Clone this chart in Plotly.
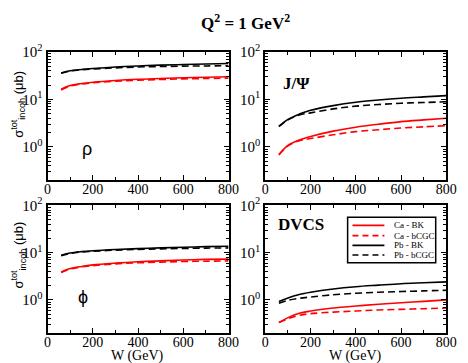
import plotly.graph_objects as go
import math

W = [60, 100, 150, 200, 300, 400, 500, 600, 700, 800]

rho_ca_bk = [16.4, 19.5, 21.5, 23.0, 25.0, 26.5, 27.5, 28.5, 29.3, 30.0]
rho_ca_bcgc = [15.8, 19.0, 21.0, 22.3, 24.0, 25.3, 26.2, 27.0, 27.5, 28.0]
rho_pb_bk = [36.0, 40.0, 42.5, 44.5, 48.0, 50.5, 52.5, 54.0, 55.5, 57.0]
rho_pb_bcgc = [35.5, 39.5, 42.0, 43.5, 46.0, 48.0, 49.0, 50.0, 50.5, 51.0]

jpsi_ca_bk = [0.69, 1.08, 1.40, 1.66, 2.15, 2.6, 3.0, 3.4, 3.7, 4.0]
jpsi_ca_bcgc = [0.68, 1.05, 1.35, 1.50, 1.80, 2.1, 2.3, 2.5, 2.65, 2.8]
jpsi_pb_bk = [2.7, 3.8, 4.9, 5.9, 7.4, 8.7, 9.7, 10.6, 11.3, 12.0]
jpsi_pb_bcgc = [2.7, 3.7, 4.7, 5.2, 6.3, 7.2, 7.8, 8.3, 8.6, 8.9]

phi_ca_bk = [3.9, 4.6, 5.1, 5.5, 6.0, 6.4, 6.7, 7.0, 7.2, 7.3]
phi_ca_bcgc = [3.8, 4.5, 5.0, 5.3, 5.8, 6.1, 6.3, 6.5, 6.6, 6.7]
phi_pb_bk = [8.8, 9.8, 10.5, 11.0, 11.7, 12.2, 12.6, 13.0, 13.4, 13.7]
phi_pb_bcgc = [8.6, 9.6, 10.3, 10.7, 11.3, 11.7, 12.0, 12.3, 12.5, 12.6]

dvcs_ca_bk = [0.33, 0.42, 0.52, 0.58, 0.67, 0.74, 0.81, 0.87, 0.93, 1.0]
dvcs_ca_bcgc = [0.33, 0.40, 0.47, 0.51, 0.55, 0.58, 0.61, 0.63, 0.65, 0.67]
dvcs_pb_bk = [0.92, 1.10, 1.30, 1.45, 1.70, 1.90, 2.05, 2.20, 2.30, 2.40]
dvcs_pb_bcgc = [0.85, 0.98, 1.08, 1.15, 1.28, 1.38, 1.45, 1.50, 1.55, 1.60]

series_names = ["Ca - BK", "Ca - bCGC", "Pb - BK", "Pb - bCGC"]
series_colors = ["#ff0000", "#ff0000", "#000000", "#000000"]
series_dash = ["solid", "7px,4px", "solid", "7px,4px"]

panels = [
    ("ρ", [rho_ca_bk, rho_ca_bcgc, rho_pb_bk, rho_pb_bcgc]),
    ("J/Ψ", [jpsi_ca_bk, jpsi_ca_bcgc, jpsi_pb_bk, jpsi_pb_bcgc]),
    ("ϕ", [phi_ca_bk, phi_ca_bcgc, phi_pb_bk, phi_pb_bcgc]),
    ("DVCS", [dvcs_ca_bk, dvcs_ca_bcgc, dvcs_pb_bk, dvcs_pb_bcgc]),
]

FW, FH = 468, 363
def px_x(p):
    return p / FW
def px_y(p):
    return 1 - p / FH

xdoms = [[px_x(45), px_x(232)], [px_x(270), px_x(457)]]
ydoms = [[px_y(175), px_y(43)], [px_y(332), px_y(201)]]

SERIF = "Liberation Serif, Times New Roman, serif"
SANS = "Liberation Sans, Arial, sans-serif"

fig = go.Figure()
layout = dict(
    width=FW, height=FH,
    margin=dict(l=0, r=0, t=0, b=0),
    paper_bgcolor="white", plot_bgcolor="white",
    showlegend=False,
)

minor_vals = []
for dec in [0.1, 1, 10]:
    for k in range(2, 10):
        v = k * dec
        if v >= 0.2:
            minor_vals.append(v)

for i, (label, data) in enumerate(panels):
    row, col = divmod(i, 2)
    n = i + 1
    xa = "x" if n == 1 else f"x{n}"
    ya = "y" if n == 1 else f"y{n}"
    for s in range(4):
        fig.add_trace(go.Scatter(
            x=W, y=data[s], mode="lines", name=series_names[s],
            line=dict(color=series_colors[s], width=1.6, dash=series_dash[s], shape="spline"),
            xaxis=xa, yaxis=ya, showlegend=False, hoverinfo="skip",
        ))
    xkey = "xaxis" if n == 1 else f"xaxis{n}"
    ykey = "yaxis" if n == 1 else f"yaxis{n}"
    layout[xkey] = dict(
        domain=xdoms[col], anchor=ya, range=[0, 800],
        tickmode="linear", tick0=0, dtick=200,
        ticks="inside", ticklen=5, tickwidth=1, tickcolor="black",
        minor=dict(tickmode="linear", tick0=0, dtick=100, ticks="inside", ticklen=3, tickcolor="black"),
        showline=True, linewidth=2, linecolor="black", mirror="allticks",
        showgrid=False, zeroline=False,
        tickfont=dict(family=SERIF, size=14, color="black"),
        ticklabelstandoff=-5,
    )
    layout[ykey] = dict(
        domain=ydoms[row], anchor=xa, type="log", range=[math.log10(0.2), 2],
        tickmode="array", tickvals=[1, 10, 100],
        ticktext=["10<sup>0</sup>", "10<sup>1</sup>", "10<sup>2</sup>"],
        ticks="inside", ticklen=5, tickwidth=1, tickcolor="black",
        minor=dict(tickmode="array", tickvals=minor_vals, ticks="inside", ticklen=3, tickcolor="black"),
        showline=True, linewidth=2, linecolor="black", mirror="allticks",
        showgrid=False, zeroline=False,
        tickfont=dict(family=SERIF, size=15, color="black"),
    )

annotations = []
annotations.append(dict(
    text="<b>Q<sup>2</sup> = 1 GeV<sup>2</sup></b>", xref="paper", yref="paper",
    x=px_x(249), y=px_y(12), showarrow=False, xanchor="center", yanchor="middle",
    font=dict(family=SERIF, size=17, color="black"),
))
for yc in [97, 252]:
    annotations.append(dict(
        text="σ<sup>tot</sup><sub>incoh</sub> (μb)", xref="paper", yref="paper",
        x=px_x(15), y=px_y(yc), showarrow=False, textangle=-90,
        xanchor="center", yanchor="middle",
        font=dict(family=SANS, size=13, color="black"),
    ))
for xc in [138, 363]:
    annotations.append(dict(
        text="W (GeV)", xref="paper", yref="paper",
        x=px_x(xc), y=px_y(356), showarrow=False, xanchor="center", yanchor="middle",
        font=dict(family=SERIF, size=14, color="black"),
    ))
annotations.append(dict(text="ρ", xref="paper", yref="paper", x=px_x(78), y=px_y(143),
                        showarrow=False, font=dict(family=SANS, size=18, color="black")))
annotations.append(dict(text="<b>J/Ψ</b>", xref="paper", yref="paper", x=px_x(302), y=px_y(64),
                        showarrow=False, font=dict(family=SERIF, size=17, color="black")))
annotations.append(dict(text="ϕ", xref="paper", yref="paper", x=px_x(74), y=px_y(307),
                        showarrow=False, font=dict(family=SANS, size=18, color="black")))
annotations.append(dict(text="<b>DVCS</b>", xref="paper", yref="paper", x=px_x(307), y=px_y(221),
                        showarrow=False, font=dict(family=SERIF, size=17, color="black")))

shapes = [dict(type="rect", xref="paper", yref="paper",
               x0=px_x(355), x1=px_x(446), y0=px_y(260), y1=px_y(213),
               line=dict(color="black", width=1.5), fillcolor="white", layer="above")]
rows_y = [221.5, 232, 242, 252]
for s in range(4):
    shapes.append(dict(type="line", xref="paper", yref="paper",
                       x0=px_x(360), x1=px_x(393), y0=px_y(rows_y[s]), y1=px_y(rows_y[s]),
                       line=dict(color=series_colors[s], width=1.6,
                                 dash="solid" if series_dash[s] == "solid" else "6px,4px"),
                       layer="above"))
    annotations.append(dict(text=series_names[s], xref="paper", yref="paper",
                            x=px_x(401), y=px_y(rows_y[s]), xanchor="left", yanchor="middle",
                            showarrow=False, font=dict(family=SERIF, size=9, color="black")))

layout["annotations"] = annotations
layout["shapes"] = shapes
fig.update_layout(**layout)
fig.write_html(
    "out.html",
    config={"displayModeBar": False, "staticPlot": True},
    post_script=(
        "document.body.style.margin='0';document.body.style.padding='0';"
        "var gd=document.getElementById('{plot_id}');"
        "gd.style.position='absolute';gd.style.top='0px';gd.style.left='0px';"
    ),
)
